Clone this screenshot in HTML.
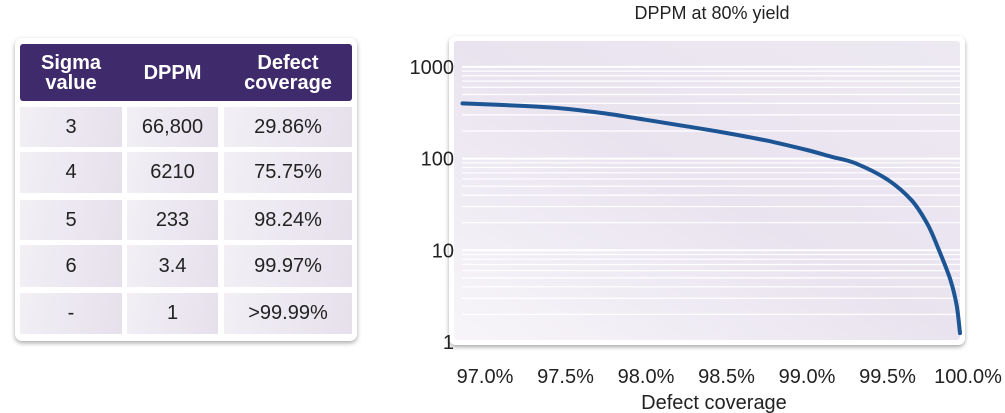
<!DOCTYPE html>
<html><head><meta charset="utf-8"><style>
body{margin:0;width:1005px;height:413px;background:#fff;font-family:"Liberation Sans",Arial,sans-serif;overflow:hidden;position:relative}
.tbl{position:absolute;left:15px;top:38px;width:342px;height:303px;background:#fff;border-radius:7px;box-shadow:0 2px 5px rgba(0,0,0,.35)}
.hdr{position:absolute;left:5px;top:6px;width:332px;height:57px;background:#3f2a6b;border-radius:3px;color:#fff;font-weight:bold;font-size:20px;line-height:20px}
.hdr div{position:absolute;top:0;height:57px;display:flex;align-items:center;justify-content:center;text-align:center}
.cell{position:absolute;background:linear-gradient(100deg,#f2eff5,#e6e0ec);display:flex;align-items:center;justify-content:center;font-size:20px;color:#222}
</style></head><body>
<div class="tbl">
 <div class="hdr">
  <div style="left:0;width:102px">Sigma<br>value</div>
  <div style="left:107px;width:91px">DPPM</div>
  <div style="left:204px;width:128px">Defect<br>coverage</div>
 </div>
 <div id="rows"></div>
</div>
<svg width="1005" height="413" style="position:absolute;left:0;top:0">
 <defs>
  <linearGradient id="bg" x1="0" y1="1" x2="1" y2="0"><stop offset="0" stop-color="#f7f5f9"/><stop offset="0.5" stop-color="#e9e3ef"/><stop offset="1" stop-color="#ede9f1"/></linearGradient>
  <filter id="sh" x="-5%" y="-5%" width="110%" height="110%"><feDropShadow dx="0" dy="2" stdDeviation="2" flood-opacity="0.35"/></filter>
 </defs>
 <rect x="449" y="36" width="516" height="309" rx="7" fill="#fff" filter="url(#sh)"/>
 <rect x="454" y="41" width="506" height="299" rx="3" fill="url(#bg)"/>
 <g id="grid"></g><g id="yt"></g><g id="xt"></g>
 <path id="line" fill="none" stroke="#1d5594" stroke-width="4" stroke-linecap="round" stroke-linejoin="round"/>
 <text x="712" y="19" text-anchor="middle" font-size="18" fill="#222">DPPM at 80% yield</text>
 <text x="714" y="409" text-anchor="middle" font-size="20" fill="#222">Defect coverage</text>
</svg>
<script>
const sigmaVals=["3","4","5","6","-"];
const dppmVals=["66,800","6210","233","3.4","1"];
const coverageVals=["29.86%","75.75%","98.24%","99.97%",">99.99%"];
const xData=[96.86,97.25,97.5,97.75,98.0,98.25,98.5,98.75,99.0,99.15,99.3,99.5,99.65,99.75,99.82,99.89,99.93,99.95];
const yData=[400,375,350,310,265,225,190,157,124,105,89,59,35,19,10,4.8,2.5,1.25];
const xTicks=[97.0,97.5,98.0,98.5,99.0,99.5,100.0];
const yTicks=[1,10,100,1000];
const NS="http://www.w3.org/2000/svg";
const rowTops=[69,114,162,207,255],rowH=[40,41,40,42,41];
const colL=[5,112,209],colW=[102,91,128];
const rows=document.getElementById('rows');
for(let i=0;i<5;i++){const vals=[sigmaVals[i],dppmVals[i],coverageVals[i]];
 for(let j=0;j<3;j++){const d=document.createElement('div');d.className='cell';
  d.style.left=colL[j]+'px';d.style.top=rowTops[i]+'px';d.style.width=colW[j]+'px';d.style.height=rowH[i]+'px';
  d.textContent=vals[j];
  
  
  rows.appendChild(d);}}
const xs=v=>485+(v-97)*161;
const ys=v=>342-Math.log10(v)*91.7;
const grid=document.getElementById('grid');
for(let d=0;d<4;d++)for(let m=1;m<10;m++){const v=m*Math.pow(10,d);if(v>1000&&m>1)continue;
 const l=document.createElementNS(NS,'line');const y=ys(v);
 l.setAttribute('x1',462);l.setAttribute('x2',962);l.setAttribute('y1',y);l.setAttribute('y2',y);
 l.setAttribute('stroke','#fff');l.setAttribute('stroke-width',m==1?2:1.2);
 
 
 grid.appendChild(l);}
const yt=document.getElementById('yt');
yTicks.forEach(v=>{const t=document.createElementNS(NS,'text');t.setAttribute('x',454);t.setAttribute('y',ys(v)+7);
 t.setAttribute('text-anchor','end');t.setAttribute('font-size','20');t.setAttribute('fill','#222');t.textContent=v;
 
 
 yt.appendChild(t);});
const xt=document.getElementById('xt');
xTicks.forEach(v=>{const t=document.createElementNS(NS,'text');t.setAttribute('x',xs(v));t.setAttribute('y',383);
 t.setAttribute('text-anchor','middle');t.setAttribute('font-size','20');t.setAttribute('fill','#222');t.textContent=v.toFixed(1)+'%';
 
 
 xt.appendChild(t);});
const P=xData.map((x,i)=>[xs(x),ys(yData[i])]);
let d='M'+P[0][0].toFixed(1)+','+P[0][1].toFixed(1);
for(let i=0;i<P.length-1;i++){const p0=P[Math.max(0,i-1)],p1=P[i],p2=P[i+1],p3=P[Math.min(P.length-1,i+2)];
 const c1=[p1[0]+(p2[0]-p0[0])/6,p1[1]+(p2[1]-p0[1])/6],c2=[p2[0]-(p3[0]-p1[0])/6,p2[1]-(p3[1]-p1[1])/6];
 d+='C'+c1.map(n=>n.toFixed(1)).join(',')+' '+c2.map(n=>n.toFixed(1)).join(',')+' '+p2.map(n=>n.toFixed(1)).join(',');}
document.getElementById('line').setAttribute('d',d);
</script>
</body></html>
